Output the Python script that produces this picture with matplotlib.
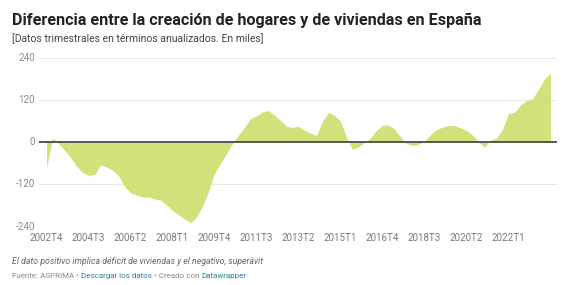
import matplotlib
matplotlib.use("Agg")
import matplotlib.pyplot as plt
import numpy as np

plt.rcParams['font.family'] = ['Roboto', 'DejaVu Sans']

# Quarters from 2002T4 to 2023T4
start_year, start_q = 2002, 4
n_points = 85
quarters = []
y, q = start_year, start_q
for _ in range(n_points):
    quarters.append(f"{y}T{q}")
    q += 1
    if q > 4:
        q = 1
        y += 1

values = [-75, 12, -4, -23, -42, -68, -86, -94, -92, -65,
          -70, -80, -95, -126, -144, -150, -156, -155, -161, -164,
          -178, -194, -206, -218, -229, -212, -182, -140, -89, -60,
          -32, -4, 20, 43, 67, 75, 86, 90, 77, 62,
          45, 42, 45, 34, 26, 19, 60, 85, 76, 60,
          15, -21, -13, -1, 12, 34, 48, 49, 37, 15,
          -4, -10, -6, 3, 22, 36, 43, 48, 47, 41,
          34, 20, 0, -14, 6, 12, 36, 82, 84, 106,
          118, 124, 150, 180, 196]

tick_labels = ["2002T4", "2004T3", "2006T2", "2008T1", "2009T4", "2011T3",
               "2013T2", "2015T1", "2016T4", "2018T3", "2020T2", "2022T1"]
y_ticks = [-240, -120, 0, 120, 240]

W, H = 567, 285
fig = plt.figure(figsize=(W / 100, H / 100), dpi=100)
fig.patch.set_facecolor("white")

ax = fig.add_axes([39 / W, 1 - 226.7 / H, (557 - 39) / W, (226.7 - 57.7) / H])
x = np.arange(len(values))
ax.fill_between(x, 0, values, color="#d4e07a", linewidth=0, zorder=2)
ax.axhline(0, color="#4a4a4a", linewidth=1.3, zorder=3)
for yt in y_ticks:
    if yt != 0:
        ax.axhline(yt, color="#e8e8e8", linewidth=0.8, zorder=1)

ax.set_xlim(-1.25, 85.08)
ax.set_ylim(-240, 240)
for s in ax.spines.values():
    s.set_visible(False)
ax.set_yticks([])
tick_pos = [quarters.index(t) for t in tick_labels]
ax.set_xticks(tick_pos)
ax.set_xticklabels(tick_labels, fontsize=7, color="#7a7a7a")
ax.tick_params(axis="x", length=0, pad=4.5)

for yt in y_ticks:
    fig.text(35 / W, 1 - (142.2 - yt * 84.5 / 240) / H, str(yt) if yt >= 0 else "-" + str(-yt),
             ha="right", va="center", fontsize=7, color="#8a8a8a")

fig.text(12 / W, 1 - 20 / H, "Diferencia entre la creación de hogares y de viviendas en España",
         fontsize=11.6, fontweight="bold", color="#222222", ha="left", va="center")
fig.text(12 / W, 1 - 39 / H, "[Datos trimestrales en términos anualizados. En miles]",
         fontsize=7.45, color="#444444", ha="left", va="center")
fig.text(12 / W, 1 - 262 / H, "El dato positivo implica déficit de viviendas y el negativo, superávit",
         fontsize=6.3, color="#666666", style="italic", ha="left", va="center")

# multicolour source line
pieces = [("Fuente: ASPRIMA • ", "#8a8a8a"), ("Descargar los datos", "#2a7fa8"),
          (" • Creado con ", "#8a8a8a"), ("Datawrapper", "#2a7fa8")]
fig.canvas.draw()
renderer = fig.canvas.get_renderer()
xpos = 12
for txt, col in pieces:
    t = fig.text(xpos / W, 1 - 276 / H, txt, fontsize=5.75, color=col, ha="left", va="center")
    bb = t.get_window_extent(renderer=renderer)
    xpos += bb.width

fig.savefig("out.png", dpi=100, facecolor="white")
